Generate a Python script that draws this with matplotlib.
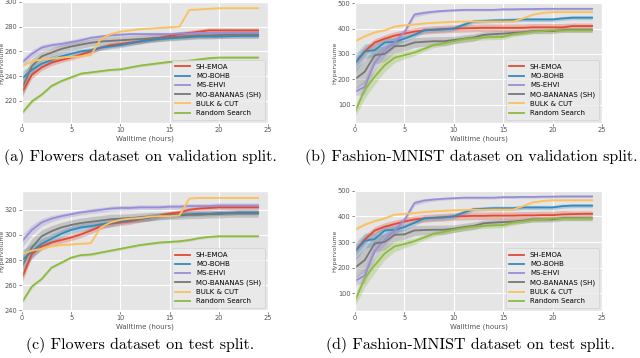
import numpy as np
import matplotlib
matplotlib.use("Agg")
import matplotlib.pyplot as plt

plt.style.use("ggplot")

hours = list(range(25))
methods = ["SH-EMOA", "MO-BOHB", "MS-EHVI", "MO-BANANAS (SH)", "BULK & CUT", "Random Search"]
colors = ["#E24A33", "#348ABD", "#988ED5", "#777777", "#FBC15E", "#8EBA42"]

# (a) Flowers, validation
a_sh = [227, 241, 247, 251, 253, 255, 257.5, 260, 263, 265, 266, 267, 268, 270, 271, 272.5, 274, 275, 276, 277, 277, 277, 277, 277, 277]
a_bohb = [238, 245, 250, 253, 256, 258, 260, 261, 263, 264, 265, 266.5, 268, 269, 270, 270.5, 271, 271.5, 272, 272, 272, 272.3, 272.5, 272.5, 272.5]
a_ehvi = [251, 258, 263, 265, 266, 267.5, 269, 271, 272, 273, 273.5, 274, 274, 274, 274, 274, 274.5, 274.5, 275, 275, 275, 275, 275, 275, 275]
a_ban = [230, 248, 256, 259, 262, 264, 265.5, 267, 268, 268.5, 269, 269.5, 270, 270.5, 271, 271.5, 272, 272.5, 273, 273, 273.3, 273.5, 273.5, 273.5, 273.5]
a_bulk = [248, 252, 253.5, 254, 255, 255.5, 256, 257, 270, 274, 276, 277, 278, 278.5, 279, 279.5, 280, 293.5, 294, 294.5, 295, 295, 295, 295, 295]
a_rand = [210, 219.5, 225, 232, 236, 239, 242, 243, 244, 245, 245.5, 247, 248.5, 249.5, 250.5, 251.5, 252, 252.5, 253.5, 254.5, 255, 255, 255, 255, 255]
a_sh_sd = [3, 3, 2.5, 2.5, 2, 2, 2, 2, 2, 2, 2, 2, 2, 2, 2, 2, 2, 2, 2, 2, 2, 2, 2, 2, 2]
a_bohb_sd = [6, 4, 3, 3, 2.5, 2.5, 2, 2, 2, 2, 2, 2, 2, 2, 2, 1.5, 1.5, 1.5, 1.5, 1.5, 1.5, 1.5, 1.5, 1.5, 1.5]
a_ehvi_sd = [3, 3, 2.5, 2, 2, 2, 2, 1.5, 1.5, 1.5, 1.5, 1.5, 1.5, 1.5, 1.5, 1.5, 1.5, 1.5, 1.5, 1.5, 1.5, 1.5, 1.5, 1.5, 1.5]
a_ban_sd = [8, 6, 4, 4, 3.5, 3.5, 3, 3, 3, 3, 3, 3, 3, 3, 3, 3, 3, 3, 3, 3, 3, 3, 3, 3, 3]
a_bulk_sd = [0.5] * 25
a_rand_sd = [1.5, 1.5, 1, 1, 1, 1, 1, 1, 1, 1, 1, 1, 1, 1, 1, 1, 1, 1, 1, 1, 1, 1, 1, 1, 1]

# (b) Fashion-MNIST, validation
b_sh = [265, 310, 345, 360, 372, 380, 388, 393, 396, 398, 400, 401, 402, 403, 403, 403, 403, 403, 405, 405, 405, 405, 410, 410, 410]
b_bohb = [262, 310, 315, 345, 348, 360, 375, 393, 395, 397, 400, 415, 428, 430, 432, 433, 434, 436, 436, 436, 436, 440, 443, 443, 443]
b_ehvi = [150, 170, 265, 315, 345, 385, 455, 462, 467, 470, 472, 474, 474, 474, 474, 476, 476, 477, 477, 478, 478, 478, 478, 478, 478]
b_ban = [200, 230, 295, 300, 330, 332, 345, 348, 350, 350, 355, 360, 365, 375, 378, 380, 383, 385, 390, 390, 390, 395, 395, 395, 395]
b_bulk = [350, 370, 385, 393, 408, 413, 416, 420, 423, 425, 427, 428, 428, 428, 428, 428, 428, 440, 455, 462, 465, 465, 465, 465, 465]
b_rand = [70, 160, 210, 255, 285, 295, 305, 320, 335, 342, 350, 358, 362, 365, 366, 367, 378, 383, 388, 390, 393, 393, 393, 393, 393]
b_sh_sd = [20, 18, 15, 15, 15, 15, 15, 15, 15, 15, 15, 15, 15, 15, 15, 15, 15, 15, 15, 15, 15, 15, 12, 12, 12]
b_bohb_sd = [35, 30, 25, 20, 15, 12, 10, 10, 10, 10, 10, 10, 8, 8, 8, 8, 8, 8, 8, 8, 8, 8, 8, 8, 8]
b_ehvi_sd = [15, 30, 30, 25, 20, 15, 10, 8, 6, 5, 5, 5, 5, 5, 5, 5, 5, 5, 5, 5, 5, 5, 5, 5, 5]
b_ban_sd = [40, 45, 35, 30, 25, 20, 20, 18, 18, 18, 15, 15, 15, 12, 12, 12, 10, 10, 10, 10, 10, 10, 10, 10, 10]
b_bulk_sd = [4, 4, 4, 3, 3, 3, 3, 3, 3, 3, 3, 3, 3, 3, 3, 3, 3, 3, 3, 3, 3, 3, 3, 3, 3]
b_rand_sd = [20, 35, 30, 25, 20, 15, 12, 10, 10, 10, 10, 10, 10, 10, 10, 10, 10, 8, 8, 8, 8, 8, 8, 8, 8]

# (c) Flowers, test
c_sh = [266, 285, 291, 294, 296, 298, 300.5, 303.5, 307, 309, 310, 311, 312.5, 314, 315.5, 317, 318, 320, 321, 321.5, 322, 322, 322, 322, 322]
c_bohb = [280, 287, 293, 297, 301, 304, 306, 307, 308.5, 309.5, 311, 312, 313, 314, 315, 315.5, 316, 316.5, 317, 317, 317.5, 317.5, 318, 318, 318]
c_ehvi = [295, 304, 310, 313, 315, 316.5, 318, 319, 320, 321, 321.5, 321.5, 322, 322, 322, 322.5, 322.5, 323, 323, 323, 323.5, 323.5, 323.5, 323.5, 323.5]
c_ban = [275, 290, 299, 303, 306, 308, 309.5, 310.5, 311.5, 312.5, 313, 313.5, 314, 314.5, 315, 315.5, 315.5, 316, 316, 316.5, 316.5, 317, 317, 317, 317]
c_bulk = [285, 287.5, 289, 291, 292, 292.5, 293, 293.5, 306, 310, 312, 313, 313.5, 314.5, 315, 315, 315.5, 329, 329.5, 329.5, 329.5, 329.5, 329.5, 329.5, 329.5]
c_rand = [246.5, 259, 265, 274, 278, 282, 284, 284.5, 286, 287.5, 289, 290.5, 292, 293, 294, 294.5, 295, 296, 297.5, 298.5, 299, 299, 299, 299, 299]
c_sh_sd = [4, 3, 3, 2.5, 2.5, 2.5, 2.5, 2.5, 2.5, 2.5, 2.5, 2.5, 2.5, 2.5, 2, 2, 2, 2, 2, 2, 2, 2, 2, 2, 2]
c_bohb_sd = [8, 6, 4, 3.5, 3, 3, 3, 3, 3, 3, 2.5, 2.5, 2.5, 2.5, 2.5, 2.5, 2, 2, 2, 2, 2, 2, 2, 2, 2]
c_ehvi_sd = [5, 4, 3, 2.5, 2, 2, 2, 2, 2, 2, 2, 2, 2, 2, 2, 2, 2, 2, 2, 2, 2, 2, 2, 2, 2]
c_ban_sd = [10, 7, 5, 4.5, 4, 4, 4, 4, 4, 4, 3.5, 3.5, 3.5, 3.5, 3, 3, 3, 3, 3, 3, 3, 3, 3, 3, 3]
c_bulk_sd = [0.5] * 25
c_rand_sd = [1.5, 1.5, 1, 1, 1, 1, 1, 1, 1, 1, 1, 1, 1, 1, 1, 1, 1, 1, 1, 1, 1, 1, 1, 1, 1]

# (d) Fashion-MNIST, test
d_sh = [265, 310, 345, 360, 370, 380, 388, 392, 395, 397, 400, 401, 402, 402, 403, 403, 403, 404, 404, 405, 405, 408, 409, 410, 410]
d_bohb = [262, 305, 312, 345, 348, 358, 375, 392, 394, 396, 400, 415, 428, 430, 432, 432, 432, 435, 435, 435, 435, 440, 442, 442, 442]
d_ehvi = [148, 170, 265, 310, 345, 385, 452, 462, 466, 469, 471, 473, 473, 473, 473, 475, 475, 476, 476, 477, 477, 478, 478, 478, 478]
d_ban = [200, 230, 295, 300, 328, 330, 345, 347, 348, 348, 352, 358, 363, 373, 376, 378, 380, 383, 388, 388, 388, 393, 393, 393, 393]
d_bulk = [348, 368, 382, 392, 407, 410, 413, 417, 420, 422, 424, 425, 426, 426, 427, 427, 427, 440, 455, 460, 463, 463, 463, 463, 463]
d_rand = [70, 160, 210, 255, 283, 292, 303, 318, 332, 340, 348, 355, 360, 363, 365, 366, 376, 381, 386, 388, 392, 392, 392, 392, 392]
d_sh_sd = b_sh_sd
d_bohb_sd = b_bohb_sd
d_ehvi_sd = b_ehvi_sd
d_ban_sd = b_ban_sd
d_bulk_sd = b_bulk_sd
d_rand_sd = b_rand_sd

panels = [
    ("(a) Flowers dataset on validation split.", [a_sh, a_bohb, a_ehvi, a_ban, a_bulk, a_rand],
     [a_sh_sd, a_bohb_sd, a_ehvi_sd, a_ban_sd, a_bulk_sd, a_rand_sd], (202, 300), [220, 240, 260, 280, 300]),
    ("(b) Fashion-MNIST dataset on validation split.", [b_sh, b_bohb, b_ehvi, b_ban, b_bulk, b_rand],
     [b_sh_sd, b_bohb_sd, b_ehvi_sd, b_ban_sd, b_bulk_sd, b_rand_sd], (27, 505), [100, 200, 300, 400, 500]),
    ("(c) Flowers dataset on test split.", [c_sh, c_bohb, c_ehvi, c_ban, c_bulk, c_rand],
     [c_sh_sd, c_bohb_sd, c_ehvi_sd, c_ban_sd, c_bulk_sd, c_rand_sd], (239.5, 335), [240, 260, 280, 300, 320]),
    ("(d) Fashion-MNIST dataset on test split.", [d_sh, d_bohb, d_ehvi, d_ban, d_bulk, d_rand],
     [d_sh_sd, d_bohb_sd, d_ehvi_sd, d_ban_sd, d_bulk_sd, d_rand_sd], (31, 503), [100, 200, 300, 400, 500]),
]

W, H = 640, 358
fig = plt.figure(figsize=(6.4, 3.58), dpi=100)
fig.patch.set_facecolor("white")

# axes boxes in pixels: left, top, right, bottom
boxes = [(22, 2, 268, 123), (355, 2, 602, 123), (22, 191, 268, 311), (355, 190, 602, 311)]
caption_pos = [(140, 157), (471, 157), (140, 345), (471, 345)]

x = np.array(hours)
for (cap, means, sds, ylim, yticks), (l, t, r, b), (cx, cy) in zip(panels, boxes, caption_pos):
    ax = fig.add_axes([l / W, 1 - b / H, (r - l) / W, (b - t) / H])
    for name, col, m, s in zip(methods, colors, means, sds):
        m = np.array(m, dtype=float)
        s = np.array(s, dtype=float)
        ax.fill_between(x, m - s, m + s, color=col, alpha=0.3, lw=0)
        ax.plot(x, m, color=col, lw=1.3, label=name)
    ax.set_xlim(0, 25)
    ax.set_xticks([0, 5, 10, 15, 20, 25])
    ax.set_ylim(*ylim)
    ax.set_yticks(yticks)
    ax.tick_params(labelsize=4.8, length=2, width=0.5, pad=1.2, colors="#555555")
    ax.set_xlabel("Walltime (hours)", fontsize=5, labelpad=1.5, color="#555555")
    ax.set_ylabel("Hypervolume", fontsize=4.5, color="#555555")
    ax.yaxis.set_label_coords(-0.073, 0.5)
    ax.grid(True, color="white", lw=0.8)
    ax.legend(loc="lower right", fontsize=5, handlelength=2.2, borderpad=0.5,
              labelspacing=0.45, framealpha=0.8, facecolor="#EBEBEB", edgecolor="#CCCCCC")
    fig.text(cx / W, 1 - cy / H, cap, ha="center", va="center", fontsize=11.5,
             family="cmr10")

fig.savefig("out.png", dpi=100)
